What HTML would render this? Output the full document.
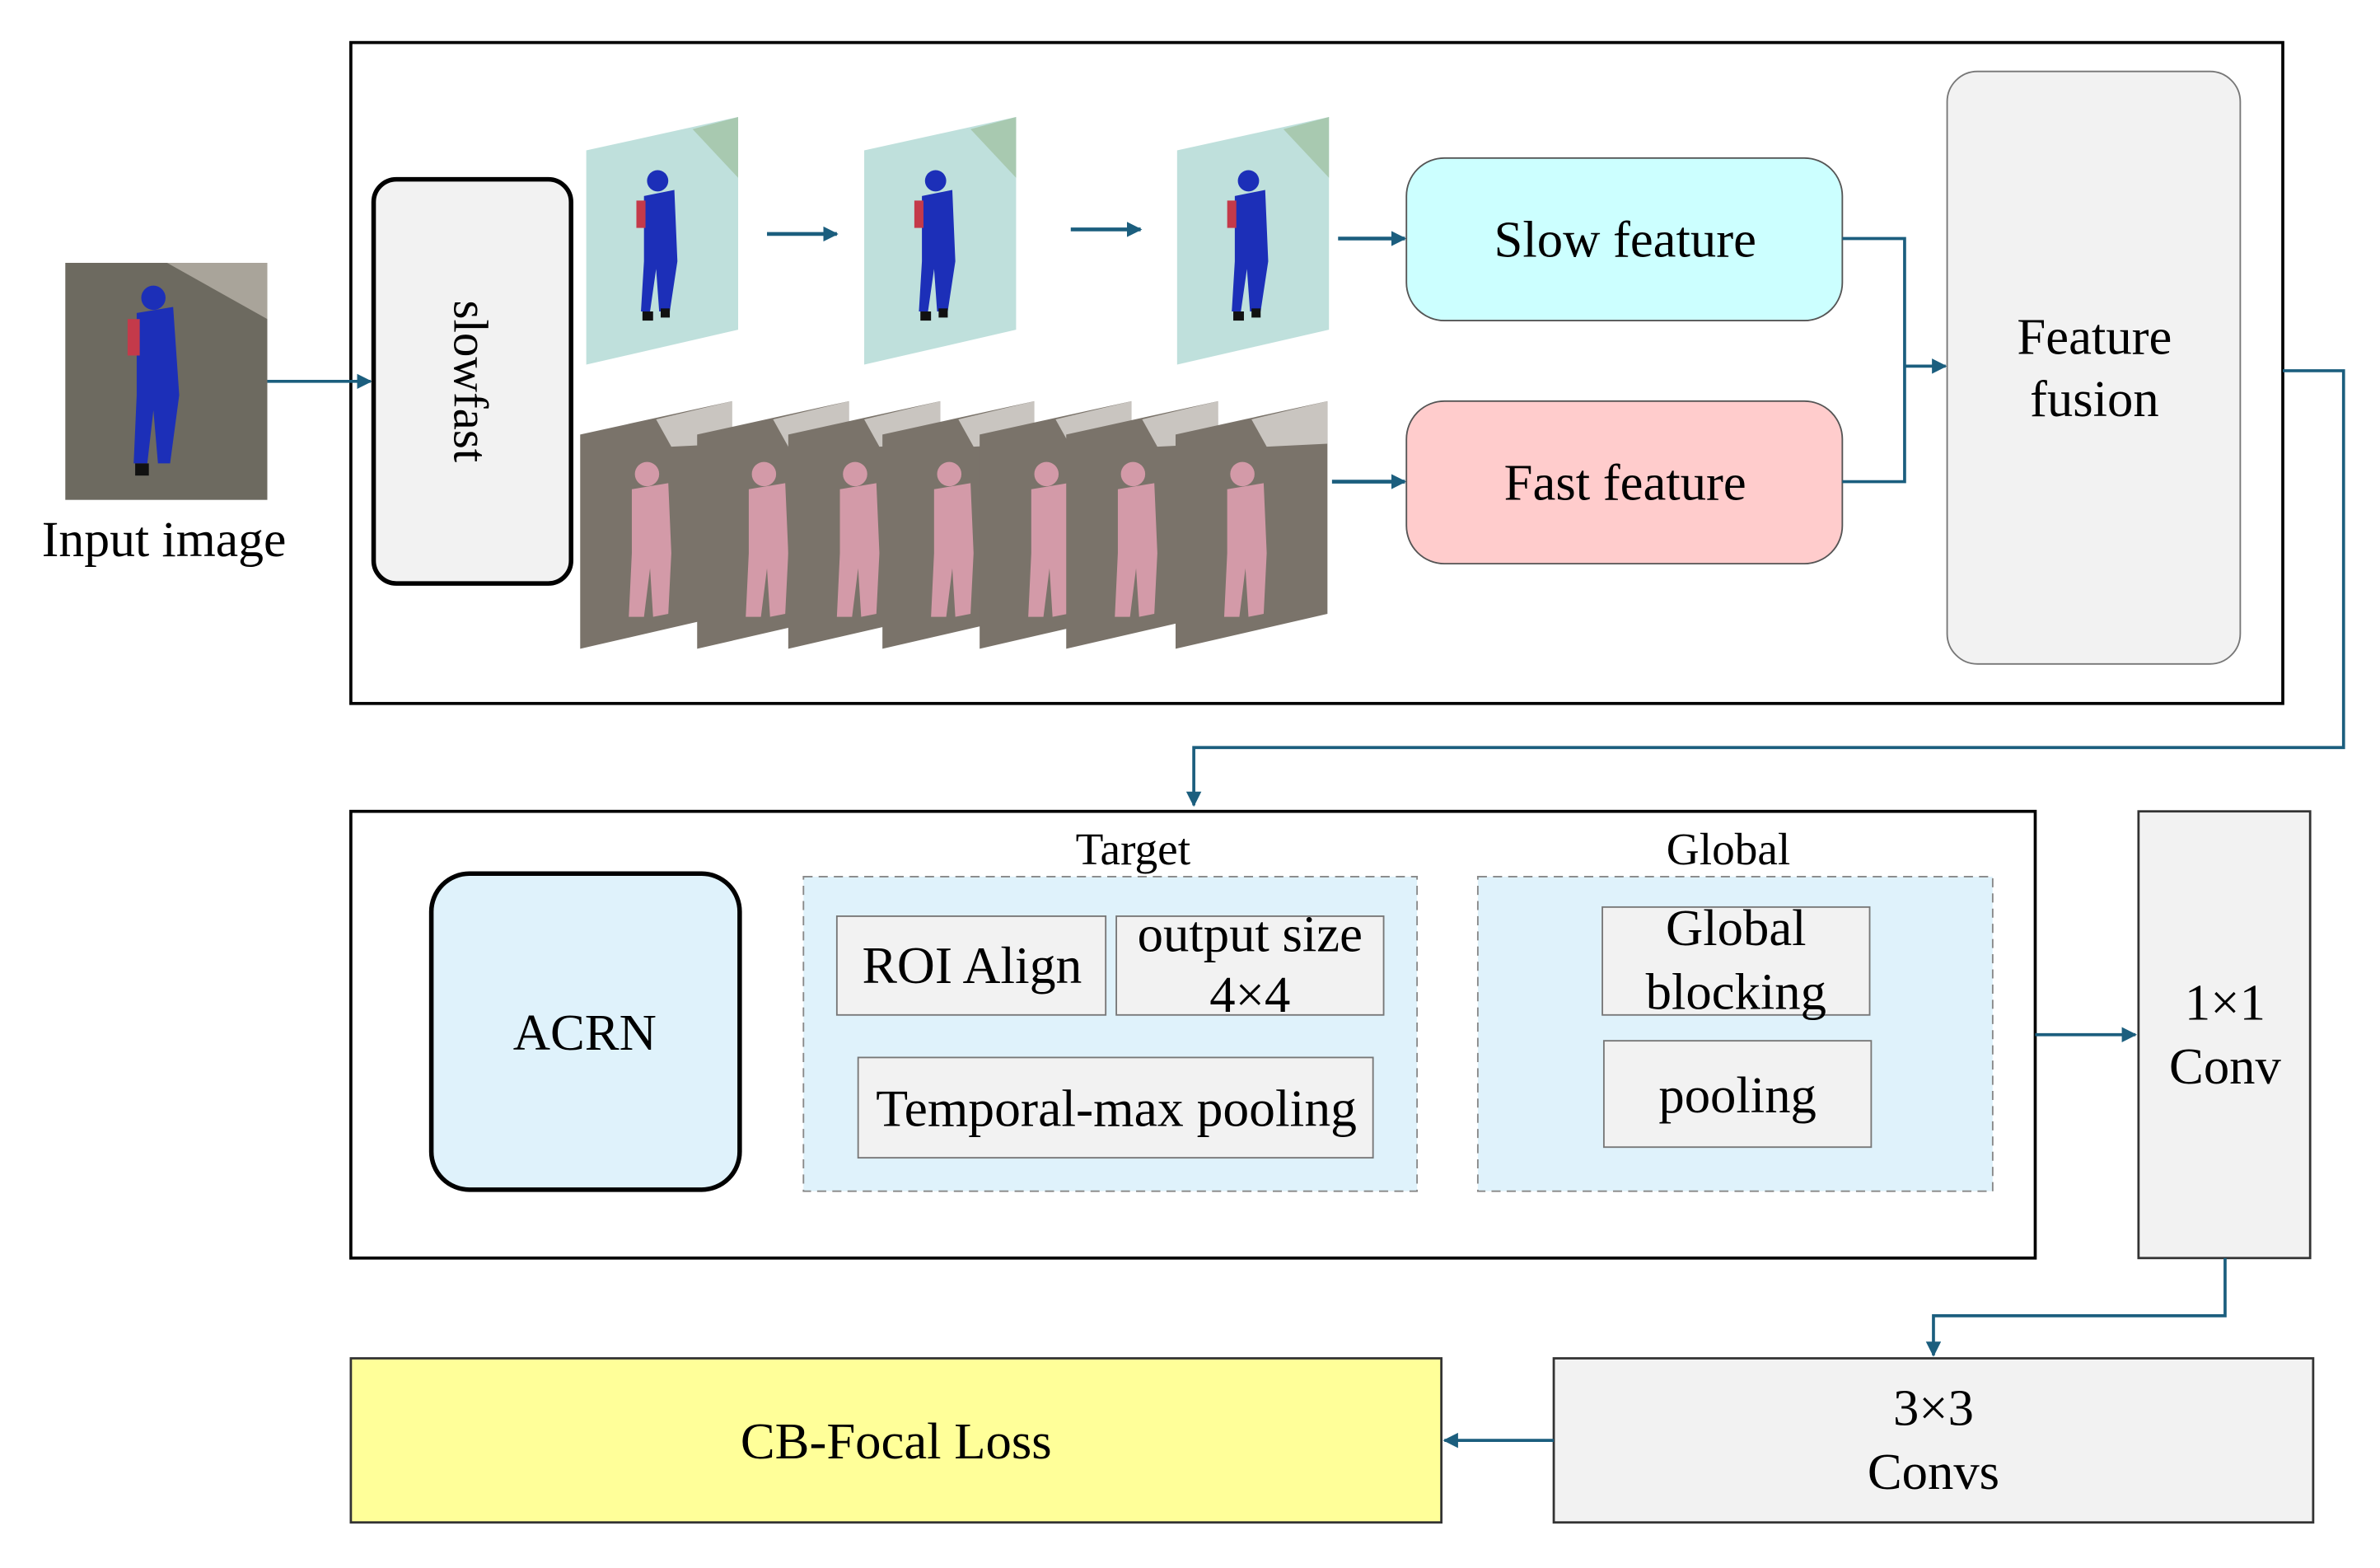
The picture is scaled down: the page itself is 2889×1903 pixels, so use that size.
<!DOCTYPE html>
<html><head><meta charset="utf-8"><style>
html,body{margin:0;padding:0;background:#fff;}
svg{display:block;}
text{font-family:"Liberation Serif",serif;fill:#000;}
</style></head><body>
<svg width="2889" height="1903" viewBox="0 0 1567 1032" preserveAspectRatio="none" xmlns="http://www.w3.org/2000/svg">
<defs>
<marker id="a" markerWidth="10" markerHeight="10" refX="9" refY="5" orient="auto" markerUnits="userSpaceOnUse"><path d="M0,0 L10,5 L0,10 z" fill="#1b5e7e"/></marker>
<g id="slowf">
 <path d="M0,22 L100,0 L100,140 L0,163 z" fill="#bfe0dc"/>
 <path d="M70,8 L100,0 L100,40 Z" fill="#a8c9b0"/>
 <circle cx="47" cy="42" r="7" fill="#1c2fb8"/>
 <path d="M38,52 L58,48 L60,95 L55,128 L48,128 L46,100 L42,128 L36,128 L38,95 z" fill="#1c2fb8"/>
 <rect x="33" y="55" width="6" height="18" fill="#c43a4a"/>
 <rect x="37" y="128" width="7" height="6" fill="#111"/>
 <rect x="49" y="126" width="6" height="6" fill="#111"/>
</g>
<g id="fastf">
 <path d="M0,22 L100,0 L100,140 L0,163 z" fill="#7a736a"/>
 <path d="M50,12 L100,0 L100,28 L60,30 z" fill="#c9c5c0"/>
 <circle cx="44" cy="48" r="8" fill="#d39aa8"/>
 <path d="M34,58 L58,54 L60,100 L58,140 L48,142 L46,110 L42,142 L32,142 L34,100 z" fill="#d39aa8"/>
</g>
</defs>

<rect x="231" y="28" width="1272" height="435" fill="#fff" stroke="#000" stroke-width="2"/>

<rect x="43" y="173" width="133" height="156" fill="#6d6a60"/>
<path d="M110,173 L176,173 L176,210 Z" fill="#a9a49a"/>
<circle cx="101" cy="196" r="8" fill="#1c2fb8"/>
<path d="M90,206 L114,202 L118,260 L112,305 L104,305 L101,270 L97,305 L88,305 L90,260 z" fill="#1c2fb8"/>
<rect x="84" y="210" width="8" height="24" fill="#c43a4a"/>
<rect x="89" y="305" width="9" height="8" fill="#111"/>
<text x="108" y="366" font-size="33.5" text-anchor="middle">Input image</text>
<line x1="176" y1="251" x2="244" y2="251" stroke="#1b5e7e" stroke-width="2" marker-end="url(#a)"/>

<rect x="246" y="118" width="130" height="266" rx="15" fill="#f2f2f2" stroke="#000" stroke-width="3"/>
<text x="0" y="0" font-size="32" text-anchor="middle" transform="translate(299,251) rotate(90)">slowfast</text>

<use href="#slowf" x="386" y="77"/>
<use href="#slowf" x="569" y="77"/>
<use href="#slowf" x="775" y="77"/>
<line x1="505" y1="154" x2="551" y2="154" stroke="#1b5e7e" stroke-width="2.5" marker-end="url(#a)"/>
<line x1="705" y1="151" x2="751" y2="151" stroke="#1b5e7e" stroke-width="2.5" marker-end="url(#a)"/>
<line x1="881" y1="157" x2="925" y2="157" stroke="#1b5e7e" stroke-width="2.5" marker-end="url(#a)"/>

<use href="#fastf" x="382" y="264"/>
<use href="#fastf" x="459" y="264"/>
<use href="#fastf" x="519" y="264"/>
<use href="#fastf" x="581" y="264"/>
<use href="#fastf" x="645" y="264"/>
<use href="#fastf" x="702" y="264"/>
<use href="#fastf" x="774" y="264"/>
<line x1="877" y1="317" x2="925" y2="317" stroke="#1b5e7e" stroke-width="2.5" marker-end="url(#a)"/>

<rect x="926" y="104" width="287" height="107" rx="25" fill="#ccffff" stroke="#555" stroke-width="1"/>
<text x="1070" y="169" font-size="34" text-anchor="middle">Slow feature</text>
<rect x="926" y="264" width="287" height="107" rx="25" fill="#ffcccc" stroke="#555" stroke-width="1"/>
<text x="1070" y="329" font-size="34" text-anchor="middle">Fast feature</text>
<polyline points="1213,157 1254,157 1254,317 1213,317" fill="none" stroke="#1b5e7e" stroke-width="2"/>
<line x1="1254" y1="241" x2="1281" y2="241" stroke="#1b5e7e" stroke-width="2" marker-end="url(#a)"/>
<rect x="1282" y="47" width="193" height="390" rx="20" fill="#f2f2f2" stroke="#777" stroke-width="1"/>
<text x="1379" y="233" font-size="34" text-anchor="middle">Feature</text>
<text x="1379" y="274" font-size="34" text-anchor="middle">fusion</text>

<polyline points="1503,244 1543,244 1543,492 786,492 786,530" fill="none" stroke="#1b5e7e" stroke-width="2" marker-end="url(#a)"/>

<rect x="231" y="534" width="1109" height="294" fill="#fff" stroke="#000" stroke-width="2"/>
<rect x="284" y="575" width="203" height="208" rx="25" fill="#dff2fb" stroke="#000" stroke-width="3"/>
<text x="385" y="691" font-size="34" text-anchor="middle">ACRN</text>

<text x="746" y="569" font-size="30" text-anchor="middle">Target</text>
<rect x="529" y="577" width="404" height="207" fill="#dff2fb" stroke="#888" stroke-width="1" stroke-dasharray="6,4"/>
<rect x="551" y="603" width="177" height="65" fill="#f2f2f2" stroke="#777" stroke-width="1"/>
<text x="640" y="647" font-size="34.5" text-anchor="middle">ROI Align</text>
<rect x="735" y="603" width="176" height="65" fill="#f2f2f2" stroke="#777" stroke-width="1"/>
<text x="823" y="626" font-size="34" text-anchor="middle">output size</text>
<text x="823" y="666" font-size="34" text-anchor="middle">4×4</text>
<rect x="565" y="696" width="339" height="66" fill="#f2f2f2" stroke="#777" stroke-width="1"/>
<text x="735" y="741" font-size="34.5" text-anchor="middle">Temporal-max pooling</text>

<text x="1138" y="569" font-size="30" text-anchor="middle">Global</text>
<rect x="973" y="577" width="339" height="207" fill="#dff2fb" stroke="#888" stroke-width="1" stroke-dasharray="6,4"/>
<rect x="1055" y="597" width="176" height="71" fill="#f2f2f2" stroke="#777" stroke-width="1"/>
<text x="1143" y="622" font-size="34" text-anchor="middle">Global</text>
<text x="1143" y="664" font-size="34" text-anchor="middle">blocking</text>
<rect x="1056" y="685" width="176" height="70" fill="#f2f2f2" stroke="#777" stroke-width="1"/>
<text x="1144" y="732" font-size="34" text-anchor="middle">pooling</text>

<line x1="1340" y1="681" x2="1406" y2="681" stroke="#1b5e7e" stroke-width="2" marker-end="url(#a)"/>
<rect x="1408" y="534" width="113" height="294" fill="#f2f2f2" stroke="#333" stroke-width="1.5"/>
<text x="1465" y="671" font-size="34" text-anchor="middle">1×1</text>
<text x="1465" y="713" font-size="34" text-anchor="middle">Conv</text>

<polyline points="1465,828 1465,866 1273,866 1273,892" fill="none" stroke="#1b5e7e" stroke-width="2" marker-end="url(#a)"/>
<rect x="1023" y="894" width="500" height="108" fill="#f2f2f2" stroke="#333" stroke-width="1.5"/>
<text x="1273" y="938" font-size="34" text-anchor="middle">3×3</text>
<text x="1273" y="980" font-size="34" text-anchor="middle">Convs</text>

<rect x="231" y="894" width="718" height="108" fill="#ffff99" stroke="#333" stroke-width="1.5"/>
<text x="590" y="960" font-size="34" text-anchor="middle">CB-Focal Loss</text>
<line x1="1023" y1="948" x2="951" y2="948" stroke="#1b5e7e" stroke-width="2" marker-end="url(#a)"/>
</svg>
</body></html>
